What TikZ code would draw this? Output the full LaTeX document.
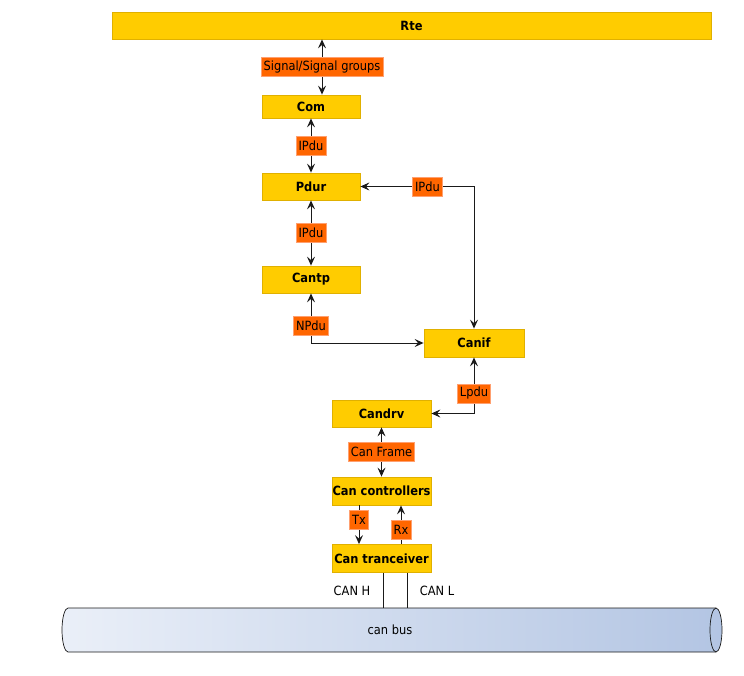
\documentclass[tikz,border=0pt]{standalone}
\usepackage{fontspec}
\setmainfont{DejaVu Sans Condensed}
\usetikzlibrary{arrows.meta}
\definecolor{boxfill}{HTML}{FFCC00}
\definecolor{boxline}{HTML}{E0B000}
\definecolor{lblfill}{HTML}{FF6600}
\definecolor{lblline}{HTML}{FFA070}
\definecolor{busL}{HTML}{EAEFF8}
\definecolor{busR}{HTML}{B3C5E3}
\definecolor{wire}{HTML}{1A1A1A}
\tikzset{
  blk/.style={draw=boxline, fill=boxfill, line width=0.8pt, inner sep=0pt,
    font=\fontsize{12.7}{14}\selectfont\bfseries, text=black},
  lbl/.style={draw=lblline, fill=lblfill, line width=0.6pt, inner xsep=2.5pt, inner ysep=0pt,
    minimum height=19pt, font=\fontsize{12.7}{14}\selectfont, text=black},
  plain/.style={font=\fontsize{12.7}{14}\selectfont, text=black, inner sep=0pt},
  conn/.style={draw=wire, line width=0.9pt},
  tip/.style={-{Stealth[length=9pt,width=8pt,inset=3.5pt]}},
  tips/.style={{Stealth[length=9pt,width=8pt,inset=3.5pt]}-{Stealth[length=9pt,width=8pt,inset=3.5pt]}}
}
\begin{document}
\begin{tikzpicture}[x=1pt,y=-1pt]
\useasboundingbox (0,0) rectangle (744,676);
% boxes
\node[blk, minimum width=599pt, minimum height=27pt] (rte) at (411.5,25.5) {Rte};
\node[blk, minimum width=98pt, minimum height=23pt] (com) at (311,106.5) {Com};
\node[blk, minimum width=98pt, minimum height=27pt] (pdur) at (311,186.5) {Pdur};
\node[blk, minimum width=98pt, minimum height=27pt] (cantp) at (311,279.5) {Cantp};
\node[blk, minimum width=100pt, minimum height=28pt] (canif) at (474,343) {Canif};
\node[blk, minimum width=99pt, minimum height=27pt] (candrv) at (381.5,413.5) {Candrv};
\node[blk, minimum width=99pt, minimum height=28pt] (ctrl) at (381.5,491) {Can controllers};
\node[blk, minimum width=99pt, minimum height=28pt] (trans) at (381.5,558.5) {Can tranceiver};
% helper coordinates
\coordinate (xsig) at (322,0);
\coordinate (xtx) at (359,0);
\coordinate (xrx) at (401,0);
\coordinate (xh) at (383,0);
\coordinate (xl) at (407,0);
% connectors
\draw[conn,tips] (rte.south -| xsig) -- node[lbl, pos=0.5]{Signal/Signal groups} (com.north -| xsig);
\draw[conn,tips] (com.south) -- node[lbl, pos=0.5]{IPdu} (pdur.north);
\draw[conn,tips] (pdur.south) -- node[lbl, pos=0.5]{IPdu} (cantp.north);
\draw[conn,tips] (canif.north) |- node[lbl, pos=0.705]{IPdu} (pdur.east);
\draw[conn,tips] (cantp.south) |- node[lbl, pos=0.33]{NPdu} (canif.west);
\draw[conn,tips] (canif.south) |- node[lbl, pos=0.32]{Lpdu} (candrv.east);
\draw[conn,tips] (candrv.south) -- node[lbl, pos=0.5]{Can Frame} (ctrl.north);
\draw[conn,tip] (ctrl.south -| xtx) -- node[lbl, pos=0.375]{Tx} (trans.north -| xtx);
\draw[conn,tip] (trans.north -| xrx) -- node[lbl, pos=0.375]{Rx} (ctrl.south -| xrx);
% can bus cylinder
\shade[left color=busL, right color=busR]
  (68,608) -- (716,608)
  .. controls (719.3,608) and (722,617.9) .. (722,630)
  .. controls (722,642.1) and (719.3,652) .. (716,652)
  -- (68,652)
  .. controls (64.7,652) and (62,642.1) .. (62,630)
  .. controls (62,617.9) and (64.7,608) .. (68,608) -- cycle;
\draw[conn, line width=0.7pt]
  (68,608) -- (716,608)
  .. controls (719.3,608) and (722,617.9) .. (722,630)
  .. controls (722,642.1) and (719.3,652) .. (716,652)
  -- (68,652)
  .. controls (64.7,652) and (62,642.1) .. (62,630)
  .. controls (62,617.9) and (64.7,608) .. (68,608) -- cycle;
\draw[conn, line width=0.7pt] (716,608)
  .. controls (712.7,608) and (710,617.9) .. (710,630)
  .. controls (710,642.1) and (712.7,652) .. (716,652);
\node[plain] (bus) at (390,630) {can bus};
\coordinate (busH) at (383,608);
\coordinate (busLt) at (407,608);
\draw[conn] (trans.south -| xh) -- (busH);
\draw[conn] (trans.south -| xl) -- (busLt);
\node[plain] (canh) at (352,591) {CAN H};
\node[plain] (canl) at (437,591) {CAN L};
\end{tikzpicture}
\end{document}
